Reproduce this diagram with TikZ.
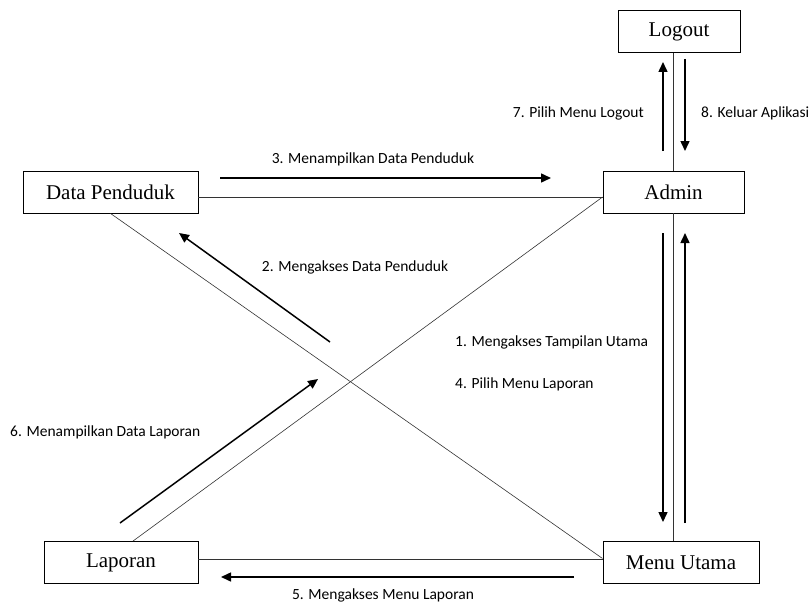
\documentclass[tikz,border=0pt]{standalone}
\usepackage{fontspec}
\setmainfont{Liberation Serif}
\newfontfamily\lblfont{Carlito}
\usetikzlibrary{arrows.meta,positioning}

\begin{document}
\begin{tikzpicture}[x=1pt,y=-1pt,
		obj/.style={draw,line width=0.9pt,minimum height=42pt,inner sep=0pt,font=\fontsize{21}{23}\selectfont},
		link/.style={draw=black!80,line width=0.6pt},
		msg/.style={line width=1.5pt,-{Triangle[length=10pt,width=9pt]}},
		lbl/.style={font=\lblfont\fontsize{15.5}{17}\selectfont,inner sep=0pt}
	]
	\useasboundingbox (0,0) rectangle (812,602);
	% objects
	\node[obj,minimum width=122pt] (logout) at (679,31.5) {Logout};
	\node[obj,minimum width=141pt] (admin) at (673.5,192) {Admin};
	\node[obj,minimum width=175pt] (penduduk) at (110.5,192) {Data Penduduk};
	\node[obj,minimum width=154pt] (laporan) at (121,562.5) {Laporan};
	\node[obj,minimum width=156pt] (menu) at (681,562.5) {Menu Utama};
	% links
	\draw[link] (admin.north) -- (admin.north |- logout.south);
	\draw[link] (admin.south) -- (admin.south |- menu.north);
	\draw[link] ([yshift=-5pt]penduduk.east) -- ([yshift=-5pt]admin.west);
	\draw[link] ([yshift=-5pt]admin.west) -- ([xshift=12pt]laporan.north);
	\draw[link] (penduduk.south) -- ([yshift=4pt]menu.west);
	\draw[link] ([yshift=3pt]laporan.east) -- ([yshift=3pt]menu.west);
	% message arrows
	\foreach \n/\s/\e in {m3/{220,178}/{551,178}, m2/{330,342}/{179,233},
			m6/{120,523}/{318,379}, m5/{574,577}/{221,577},
			m7/{663,151}/{663,62}, m8/{685,59}/{685,151},
			m1/{663,233}/{663,522}, m4/{685,523}/{685,233}}{
		\coordinate (\n s) at (\s);
		\coordinate (\n e) at (\e);
		\draw[msg] (\n s) -- (\n e);
	}
	% labels
	\node[lbl] (l3) at (373,159) {3. Menampilkan Data Penduduk};
	\node[lbl] (l2) at (355,267) {2. Mengakses Data Penduduk};
	\node[lbl,anchor=east] (l7) at (644,113) {7. Pilih Menu Logout};
	\node[lbl,anchor=west] (l8) at (701,113) {8. Keluar Aplikasi};
	\node[lbl,anchor=west] (l1) at (455,342) {1. Mengakses Tampilan Utama};
	\node[lbl,anchor=west] (l4) at (455,384) {4. Pilih Menu Laporan};
	\node[lbl,anchor=west] (l6) at (10,432) {6. Menampilkan Data Laporan};
	\node[lbl] (l5) at (383,595) {5. Mengakses Menu Laporan};
\end{tikzpicture}
\end{document}
